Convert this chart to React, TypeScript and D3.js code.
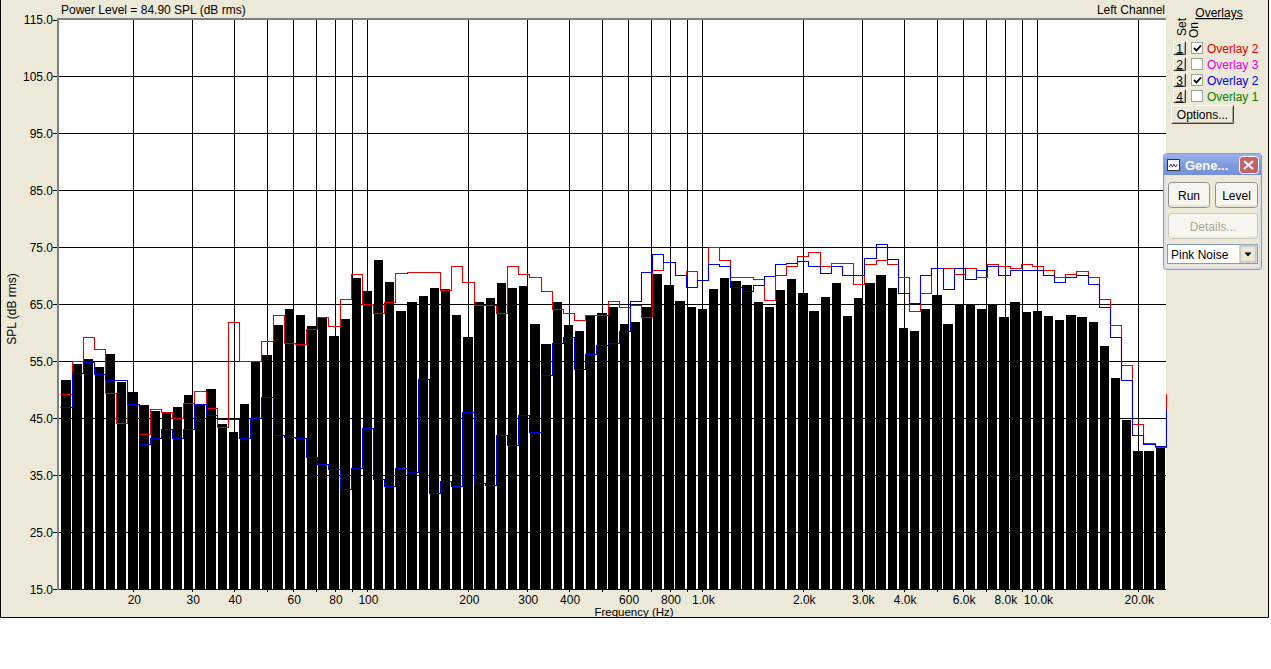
import React from "react";
import * as d3 from "d3";

// 1/30-decade analyser bands (Hz)
const bandHz = [
  12.59, 13.59, 14.68, 15.85, 17.11, 18.48, 19.95, 21.54, 23.26, 25.12, 27.12, 29.29, 31.62, 34.15,
  36.87, 39.81, 42.99, 46.42, 50.12, 54.12, 58.43, 63.1, 68.13, 73.56, 79.43, 85.77, 92.61,
  100, 108.0, 116.6, 125.9, 135.9, 146.8, 158.5, 171.1, 184.8, 199.5, 215.4, 232.6, 251.2, 271.2,
  292.9, 316.2, 341.5, 368.7, 398.1, 429.9, 464.2, 501.2, 541.2, 584.3, 631.0, 681.3, 735.6, 794.3,
  857.7, 926.1,
  1000, 1080, 1166, 1259, 1359, 1468, 1585, 1711, 1848, 1995, 2154, 2326, 2512, 2712, 2929, 3162,
  3415, 3687, 3981, 4299, 4642, 5012, 5412, 5843, 6310, 6813, 7356, 7943, 8577, 9261,
  10000, 10800, 11660, 12590, 13590, 14680, 15850, 17110, 18480, 19950, 21540, 23260, 25120,
];

// live measurement (black bars), dB SPL
const liveDb = [
  51.7, 54.5, 55.4, 54.0, 56.2, 51.3, 49.6, 47.3, 46.3, 46.1, 46.9, 49.1, 47.5, 50.1, 43.9, 42.5,
  47.5, 55.1, 56.1, 61.3, 64.1, 63.2, 61.1, 62.7, 59.4, 62.4, 69.6, 67.3, 72.7, 68.9, 63.8, 65.4,
  66.4, 67.8, 67.6, 63.1, 59.2, 65.4, 66.1, 68.7, 67.8, 68.2, 61.5, 58.0, 65.4, 61.3, 60.3, 62.9,
  63.4, 64.6, 61.5, 61.8, 64.6, 70.3, 68.3, 65.6, 64.5, 64.1, 67.6, 69.6, 69.0, 68.3, 65.4, 64.5,
  67.5, 69.4, 66.9, 63.9, 66.2, 68.7, 62.9, 66.1, 68.7, 70.1, 67.8, 60.8, 60.3, 64.1, 66.6, 61.5,
  65.0, 65.0, 64.1, 65.0, 62.7, 65.4, 63.6, 63.9, 62.9, 62.2, 63.1, 62.7, 61.8, 57.6, 52.0, 44.6,
  39.2, 39.2, 39.7,
];

// overlay set 1 (red)
const overlayRedDb = [
  49.3, 55.1, 59.2, 57.2, 49.5, 44.1, 47.5, 42.2, 46.6, 46.1, 45.1, 47.6, 49.7, 46.7, 43.4, 61.8,
  55.0, 55.1, 58.5, 63.2, 58.2, 58.1, 60.7, 62.8, 61.1, 66.0, 70.3, 65.0, 63.4, 65.4, 70.4, 70.7,
  70.6, 70.7, 67.5, 71.7, 68.9, 64.8, 64.9, 63.5, 71.8, 70.3, 69.7, 67.3, 64.1, 63.5, 62.2, 63.1,
  63.1, 65.6, 64.6, 64.9, 62.7, 71.1, 72.5, 70.1, 70.9, 69.2, 75.1, 72.7, 69.8, 69.8, 69.4, 65.8,
  70.1, 71.8, 73.4, 74.1, 71.8, 72.3, 72.3, 68.6, 72.0, 72.7, 72.0, 69.7, 63.9, 67.0, 71.3, 71.3,
  70.3, 71.3, 69.7, 72.0, 71.7, 71.3, 72.0, 71.7, 71.1, 69.8, 70.3, 70.8, 69.8, 66.0, 61.4, 54.4,
  43.9, 40.6, 40.0, 49.2,
];

// overlay set 3 (blue)
const overlayBlueDb = [
  47.0, 53.0, 54.8, 52.7, 51.7, 51.7, 47.5, 40.4, 41.6, 43.1, 41.6, 43.1, 47.5, 45.5, 44.9, 44.9,
  41.6, 45.1, 48.7, 42.0, 41.7, 41.6, 38.2, 36.9, 36.1, 32.5, 36.2, 43.2, 34.4, 33.0, 36.2, 35.5,
  51.8, 31.8, 34.0, 33.0, 46.0, 33.7, 33.2, 42.0, 40.3, 45.6, 42.5, 52.5, 58.2, 59.3, 53.7, 56.3,
  57.9, 58.2, 60.3, 65.5, 70.6, 73.8, 72.5, 70.1, 68.0, 69.2, 72.0, 71.7, 68.0, 67.3, 68.3, 69.9,
  72.1, 72.3, 72.6, 71.7, 70.4, 71.7, 70.2, 70.2, 73.2, 75.6, 72.9, 66.9, 65.3, 70.2, 71.4, 67.6,
  71.4, 69.5, 71.0, 71.8, 70.2, 71.0, 71.1, 71.1, 70.1, 68.9, 69.7, 70.2, 68.5, 64.6, 59.3, 51.7,
  42.0, 40.5, 40.1, 46.5,
];

const gridHz = [
  20, 30, 40, 50, 60, 70, 80, 90, 100, 200, 300, 400, 500, 600, 700, 800, 900,
  1000, 2000, 3000, 4000, 5000, 6000, 7000, 8000, 9000, 10000, 20000,
];
const freqTickHz = [20, 30, 40, 60, 80, 100, 200, 300, 400, 600, 800, 1000, 2000, 3000, 4000, 6000, 8000, 10000, 20000];
const freqTickText = ["20", "30", "40", "60", "80", "100", "200", "300", "400", "600", "800", "1.0k", "2.0k", "3.0k", "4.0k", "6.0k", "8.0k", "10.0k", "20.0k"];
const dbTicks = [15, 25, 35, 45, 55, 65, 75, 85, 95, 105, 115];

const overlaySets = ["1", "2", "3", "4"];
const overlayOn = [true, false, true, false];
const overlayNames = ["Overlay 2", "Overlay 3", "Overlay 2", "Overlay 1"];
const overlayColors = ["#e00000", "#e000e0", "#0000e0", "#008000"];

const FONT = "'Liberation Sans', Arial, sans-serif";
const BEIGE = "#ece9d8";

const plot = { left: 59, right: 1166, top: 19.5, bottom: 589 };

const x = d3.scaleLog().domain([12, 24200]).range([plot.left, plot.right]);
const y = d3.scaleLinear().domain([15, 115]).range([plot.bottom, plot.top]);

const edges = bandHz.map((f, i) => {
  const prev = i > 0 ? bandHz[i - 1] : (f * f) / bandHz[1];
  const next = i < bandHz.length - 1 ? bandHz[i + 1] : (f * f) / bandHz[i - 1];
  return [Math.sqrt(prev * f), Math.sqrt(f * next)];
});

const px = (v: number) => Math.round(v) + 0.5;

function stepPath(values: number[]): string {
  const pts: [number, number][] = [];
  values.forEach((v, i) => {
    pts.push([px(x(edges[i][0])), px(y(v))]);
    pts.push([px(x(edges[i][1])), px(y(v))]);
  });
  return d3.line()(pts) || "";
}

function RaisedButton({ x0, y0, w, h, label, underline = false, size = 12 }) {
  return (
    <g>
      <rect x={x0} y={y0} width={w} height={h} fill={BEIGE} />
      <path d={`M${x0 + 0.5},${y0 + h - 0.5}V${y0 + 0.5}H${x0 + w - 0.5}`} stroke="#fff" fill="none" />
      <path d={`M${x0 + 0.5},${y0 + h - 0.5}H${x0 + w - 0.5}V${y0 + 0.5}`} stroke="#404040" fill="none" />
      <path d={`M${x0 + 1.5},${y0 + h - 1.5}H${x0 + w - 1.5}V${y0 + 1.5}`} stroke="#aca899" fill="none" />
      <text
        x={x0 + w / 2}
        y={y0 + h / 2 + 4.5}
        textAnchor="middle"
        fontSize={size}
        fontFamily={FONT}
        textDecoration={underline ? "underline" : undefined}
      >
        {label}
      </text>
    </g>
  );
}

function XpButton({ x0, y0, w, h, label, disabled = false }) {
  return (
    <g>
      <rect x={x0 + 0.5} y={y0 + 0.5} width={w - 1} height={h - 1} rx={3} fill="#f6f5ef" stroke={disabled ? "#c9c7ba" : "#8e8f8f"} />
      <path d={`M${x0 + 2},${y0 + h - 2}H${x0 + w - 2}`} stroke={disabled ? "#e6e4d9" : "#d6d2c2"} />
      <text x={x0 + w / 2} y={y0 + h / 2 + 4.5} textAnchor="middle" fontSize={12} fontFamily={FONT} fill={disabled ? "#aca899" : "#000"}>
        {label}
      </text>
    </g>
  );
}

export default function App() {
  const redPath = stepPath(overlayRedDb);
  const bluePath = stepPath(overlayBlueDb);

  return (
    <svg
      width={1271}
      height={669}
      viewBox="0 0 1271 669"
      style={{ position: "absolute", left: 0, top: 0, display: "block", background: "#fff" }}
    >
      <defs>
        <clipPath id="plotClip">
          <rect x={plot.left} y={plot.top} width={plot.right - plot.left + 1} height={plot.bottom - plot.top} />
        </clipPath>
        <linearGradient id="titleGrad" x1="0" x2="0" y1="0" y2="1">
          <stop offset="0" stopColor="#9db3ea" />
          <stop offset="0.5" stopColor="#7f9be0" />
          <stop offset="1" stopColor="#7590da" />
        </linearGradient>
      </defs>

      {/* window */}
      <rect x={0} y={0} width={1269} height={618} fill={BEIGE} />
      <path d="M0.5,0V617.5H1268.5V0" fill="none" stroke="#000" />

      {/* plot background and grid */}
      <rect x={plot.left} y={plot.top} width={plot.right - plot.left} height={plot.bottom - plot.top} fill="#fff" />
      <g stroke="#000" shapeRendering="crispEdges">
        {dbTicks.slice(1, -1).map((d) => (
          <line key={d} x1={plot.left} x2={plot.right} y1={px(y(d))} y2={px(y(d))} />
        ))}
        {gridHz.map((f) => (
          <line key={f} x1={px(x(f))} x2={px(x(f))} y1={plot.top} y2={plot.bottom + 3} />
        ))}
        {dbTicks.map((d) => (
          <line key={"t" + d} x1={plot.left - 6} x2={plot.left} y1={px(y(d))} y2={px(y(d))} />
        ))}
      </g>

      {/* bars */}
      <g clipPath="url(#plotClip)" shapeRendering="crispEdges">
        {liveDb.map((v, i) => {
          const x0 = x(edges[i][0]);
          const x1 = x(edges[i][1]);
          return <rect key={i} x={x0 + 0.9} y={y(v)} width={x1 - x0 - 1.8} height={plot.bottom - y(v)} fill="#000" />;
        })}
      </g>

      {/* overlays */}
      <g clipPath="url(#plotClip)" fill="none" strokeWidth={1.1}>
        <path d={redPath} stroke="#e80000" />
        <path d={bluePath} stroke="#0000d8" />
      </g>

      {/* plot frame */}
      <g shapeRendering="crispEdges">
        <line x1={plot.left - 1} x2={plot.right} y1={19} y2={19} stroke="#808080" strokeWidth={2} />
        <line x1={58} x2={58} y1={18} y2={plot.bottom + 1} stroke="#808080" strokeWidth={2} />
        <line x1={plot.left} x2={plot.right} y1={589.5} y2={589.5} stroke="#000" />
      </g>

      {/* y axis labels */}
      <g fontFamily={FONT} fontSize={12} textAnchor="end">
        {dbTicks.map((d) => (
          <text key={d} x={53} y={y(d) + 4.5}>
            {d.toFixed(1)}
          </text>
        ))}
      </g>
      <text transform="translate(16,309) rotate(-90)" textAnchor="middle" fontFamily={FONT} fontSize={12}>
        SPL (dB rms)
      </text>

      {/* x axis labels */}
      <g fontFamily={FONT} fontSize={12} textAnchor="middle">
        {freqTickHz.map((f, i) => (
          <text key={f} x={x(f) + 1} y={604}>
            {freqTickText[i]}
          </text>
        ))}
      </g>
      <text x={634} y={616} textAnchor="middle" fontFamily={FONT} fontSize={11.5}>
        Frequency (Hz)
      </text>

      {/* headers */}
      <text x={61} y={14} fontFamily={FONT} fontSize={12}>
        Power Level = 84.90 SPL (dB rms)
      </text>
      <text x={1165} y={14} textAnchor="end" fontFamily={FONT} fontSize={12}>
        Left Channel
      </text>

      {/* overlays panel */}
      <text x={1219} y={17} textAnchor="middle" fontFamily={FONT} fontSize={12} textDecoration="underline">
        Overlays
      </text>
      <text transform="translate(1186,36) rotate(-90)" fontFamily={FONT} fontSize={12}>
        Set
      </text>
      <text transform="translate(1198,38) rotate(-90)" fontFamily={FONT} fontSize={12}>
        On
      </text>
      {overlaySets.map((s, i) => {
        const ry = 41 + i * 16;
        return (
          <g key={s}>
            <RaisedButton x0={1173} y0={ry} w={13} h={14} label={s} underline size={12} />
            <rect x={1191.5} y={ry + 1.5} width={11} height={11} fill="#fff" stroke="#a0a0a0" shapeRendering="crispEdges" />
            {overlayOn[i] && (
              <path d={`M${1194},${ry + 7} l2.5,2.5 l4.5,-5`} stroke="#000" strokeWidth={1.8} fill="none" />
            )}
            <text x={1207} y={ry + 11.5} fontFamily={FONT} fontSize={12} fill={overlayColors[i]}>
              {overlayNames[i]}
            </text>
          </g>
        );
      })}
      <RaisedButton x0={1171} y0={105} w={63} h={19} label="Options..." />

      {/* generator tool window */}
      <g>
        <rect x={1163.5} y={153.5} width={98} height={116} rx={3} fill="#d6dff5" stroke="#7f9de0" />
        <rect x={1166} y={175} width={93} height={92} fill={BEIGE} />
        <path d="M1164,172V157Q1164,154 1167,154H1258Q1261,154 1261,157V175H1164Z" fill="url(#titleGrad)" />
        <rect x={1167.5} y={159.5} width={12} height={11} fill="#fff" stroke="#333" />
        <path d="M1169,167 l2,-3 l1.5,3 l1.5,-3 l1.5,3 l2,-3" stroke="#333" fill="none" strokeWidth={0.9} />
        <text x={1185} y={170} fontFamily={FONT} fontSize={13} fontWeight="bold" fill="#fff">
          Gene...
        </text>
        <rect x={1239.5} y={156.5} width={19} height={17} rx={3} fill="#c8626a" stroke="#fff" />
        <path d="M1244,161 l9,8 M1253,161 l-9,8" stroke="#fff" strokeWidth={2} />
        <XpButton x0={1168} y0={182} w={42} h={26} label="Run" />
        <XpButton x0={1215} y0={182} w={43} h={26} label="Level" />
        <XpButton x0={1168} y0={213} w={90} h={26} label="Details..." disabled />
        <rect x={1167.5} y={244.5} width={90} height={19} fill="#fff" stroke="#7f9db9" />
        <text x={1171} y={258.5} fontFamily={FONT} fontSize={12}>
          Pink Noise
        </text>
        <rect x={1240} y={246} width={16} height={16} fill={BEIGE} stroke="#aca899" />
        <path d="M1244.5,252.5h7l-3.5,4z" fill="#000" />
      </g>
    </svg>
  );
}
